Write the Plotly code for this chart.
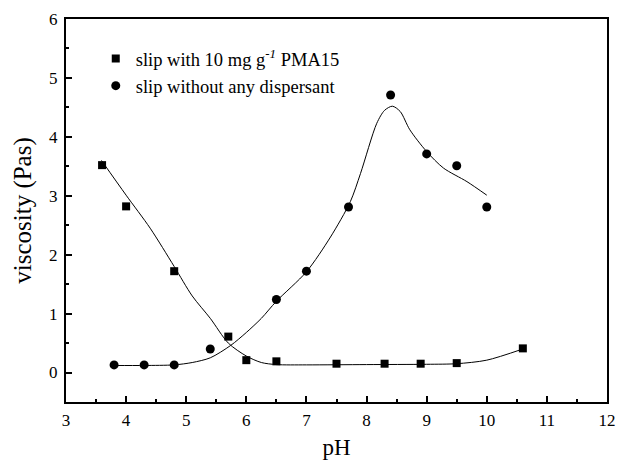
import plotly.graph_objects as go

# measured data
ph_pma = [3.6, 4.0, 4.8, 5.7, 6.0, 6.5, 7.5, 8.3, 8.9, 9.5, 10.6]
visc_pma = [3.52, 2.82, 1.72, 0.61, 0.21, 0.19, 0.15, 0.15, 0.15, 0.16, 0.41]
ph_none = [3.8, 4.3, 4.8, 5.4, 6.5, 7.0, 7.7, 8.4, 9.0, 9.5, 10.0]
visc_none = [0.13, 0.13, 0.13, 0.40, 1.24, 1.72, 2.81, 4.71, 3.71, 3.51, 2.81]

# fitted curves
fit_pma_x = [3.59, 4.0, 4.4, 4.8, 5.1, 5.4, 5.7, 6.0, 6.25, 6.5, 7.0, 8.0, 9.0, 9.5, 10.0, 10.6]
fit_pma_y = [3.60, 3.01, 2.45, 1.80, 1.30, 0.92, 0.50, 0.28, 0.17, 0.135, 0.13, 0.135, 0.14, 0.15, 0.21, 0.40]
fit_none_x = [3.8, 4.3, 4.8, 5.1, 5.4, 5.74, 6.0, 6.25, 6.5, 7.0, 7.4, 7.73, 7.9, 8.17, 8.3, 8.43, 8.56, 8.72, 9.0, 9.28, 9.67, 10.0]
fit_none_y = [0.12, 0.12, 0.13, 0.17, 0.25, 0.46, 0.68, 0.92, 1.21, 1.71, 2.30, 2.90, 3.38, 4.23, 4.45, 4.52, 4.43, 4.12, 3.75, 3.47, 3.24, 3.01]

font = "Liberation Serif, Times New Roman, serif"

fig = go.Figure()
fig.add_trace(go.Scatter(x=fit_pma_x, y=fit_pma_y, mode="lines", line=dict(color="black", width=1, shape="spline", smoothing=0.8), showlegend=False, hoverinfo="skip"))
fig.add_trace(go.Scatter(x=fit_none_x, y=fit_none_y, mode="lines", line=dict(color="black", width=1, shape="spline", smoothing=0.8), showlegend=False, hoverinfo="skip"))
fig.add_trace(go.Scatter(x=ph_pma, y=visc_pma, mode="markers", name="slip with 10 mg g<sup><i>-1</i></sup> PMA15",
                         marker=dict(symbol="square", size=8, color="black")))
fig.add_trace(go.Scatter(x=ph_none, y=visc_none, mode="markers", name="slip without any dispersant",
                         marker=dict(symbol="circle", size=9, color="black")))

axis_common = dict(showline=True, linecolor="black", linewidth=2, mirror=True, ticks="inside",
                   tickcolor="black", tickwidth=1.5, ticklen=6, showgrid=False, zeroline=False,
                   automargin=False, tickfont=dict(family=font, size=17, color="black"))
fig.update_xaxes(range=[3, 12], dtick=1, ticklabelstandoff=2,
                 title=dict(text="pH", font=dict(family=font, size=23, color="black"), standoff=17),
                 minor=dict(dtick=0.5, ticks="inside", ticklen=3, tickcolor="black", tickwidth=1.5), **axis_common)
fig.update_yaxes(range=[-0.5, 6], dtick=1, ticklabelstandoff=3,
                 title=dict(text="viscosity (Pas)", font=dict(family=font, size=25, color="black"), standoff=10),
                 minor=dict(dtick=0.5, ticks="inside", ticklen=3, tickcolor="black", tickwidth=1.5), **axis_common)

fig.update_layout(
    width=617, height=460,
    margin=dict(l=66, r=10, t=19, b=58),
    plot_bgcolor="white", paper_bgcolor="white",
    legend=dict(x=0.055, y=0.945, xanchor="left", yanchor="top", bgcolor="rgba(0,0,0,0)",
                font=dict(family=font, size=18.5, color="black"), itemwidth=30, tracegroupgap=0),
)
fig.write_html("out.html")
